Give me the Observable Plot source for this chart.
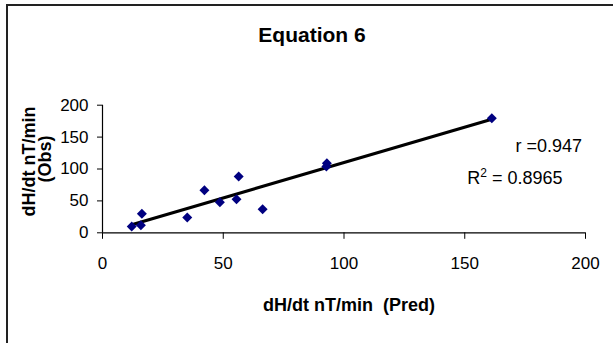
<!DOCTYPE html>
<html>
<head>
<meta charset="utf-8">
<script src="https://cdn.jsdelivr.net/npm/d3@7"></script>
<script src="https://cdn.jsdelivr.net/npm/@observablehq/plot@0.6"></script>
<style>
  html, body { margin: 0; padding: 0; background: #fff; }
  #chart { position: relative; width: 613px; height: 343px; overflow: hidden; }
  #frame { position: absolute; left: 6px; top: 4px; width: 700px; height: 500px; border-left: 2px solid #222; border-top: 2px solid #222; }
  svg { position: absolute; left: 0; top: 0; }
</style>
</head>
<body>
<div id="chart"><div id="frame"></div></div>
<script>
const titleText = "Equation 6";
const xLabel = "dH/dt nT/min  (Pred)";
const yLabelLine1 = "dH/dt nT/min";
const yLabelLine2 = "(Obs)";
const predValues = [12.1, 15.9, 16.3, 35.1, 42.2, 48.6, 55.5, 56.4, 66.3, 92.7, 92.9, 161.2];
const obsValues  = [9.9, 12.0, 29.7, 24.0, 66.8, 48.0, 52.7, 88.2, 37.0, 104.0, 109.0, 179.7];
const xTicks = [0, 50, 100, 150, 200];
const yTicks = [0, 50, 100, 150, 200];
const rText = "r =0.947";
const r2Value = "0.8965";

const data = predValues.map((x, i) => ({x, y: obsValues[i]}));
const font = "'Liberation Sans', Arial, sans-serif";

const plot = Plot.plot({
  width: 613,
  height: 343,
  marginLeft: 102,
  marginRight: 28,
  marginTop: 104.7,
  marginBottom: 110.7,
  style: {fontFamily: font, fontSize: "17px", background: "transparent", color: "#000"},
  x: {domain: [0, 200]},
  y: {domain: [0, 200]},
  marks: [
    Plot.axisX({ticks: xTicks, tickSize: 6.5, tickPadding: 18, label: null, stroke: "#000", fontSize: 17}),
    Plot.axisY({ticks: yTicks, tickSize: 5, tickPadding: 9, label: null, stroke: "#000", fontSize: 17}),
    Plot.ruleY([0], {stroke: "#000", strokeWidth: 1.2}),
    Plot.ruleX([0], {stroke: "#000", strokeWidth: 1.2}),
    Plot.linearRegressionY(data, {x: "x", y: "y", ci: 0, stroke: "#000", strokeWidth: 3.2}),
    Plot.dot(data, {x: "x", y: "y", symbol: "diamond2", r: 4.5, fill: "#000080", stroke: "none"}),
    Plot.text([titleText], {frameAnchor: "top", text: d => d, textAnchor: "middle", dx: -32, dy: -70, fontSize: 21, fontWeight: "bold", lineAnchor: "middle"}),
    Plot.text([xLabel], {frameAnchor: "bottom", text: d => d, textAnchor: "middle", dx: 5, dy: 72, fontSize: 18, fontWeight: "bold", lineAnchor: "middle"}),
    Plot.text([yLabelLine1], {frameAnchor: "left", text: d => d, rotate: -90, textAnchor: "middle", dx: -73, dy: -7.5, fontSize: 18, fontWeight: "bold", lineAnchor: "middle"}),
    Plot.text([yLabelLine2], {frameAnchor: "left", text: d => d, rotate: -90, textAnchor: "middle", dx: -57, dy: -10, fontSize: 18, fontWeight: "bold", lineAnchor: "middle"}),
    Plot.text([rText], {frameAnchor: "top-right", text: d => d, textAnchor: "start", dx: -70, dy: 41, fontSize: 18, lineAnchor: "middle"})
  ]
});
document.getElementById("chart").appendChild(plot);

// R² annotation with superscript, appended as real text to the plot's SVG
const svg = d3.select(plot);
const t = svg.append("text")
  .attr("x", 515).attr("y", 184)
  .attr("font-family", font).attr("font-size", 18).attr("fill", "#000");
t.append("tspan").text("R");
t.append("tspan").attr("dy", -7).attr("font-size", 12).text("2");
t.append("tspan").attr("dy", 7).text(" = " + r2Value);
</script>
</body>
</html>
